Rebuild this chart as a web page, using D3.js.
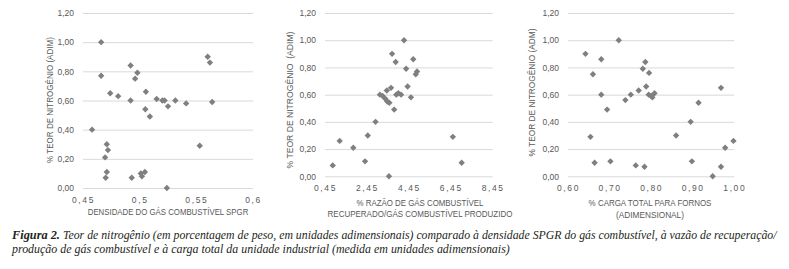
<!DOCTYPE html>
<html><head><meta charset="utf-8">
<script src="https://cdn.jsdelivr.net/npm/d3@7"></script>
<style>
body{margin:0;background:#fff;}
svg{display:block;}
</style></head>
<body>
<svg id="c" width="789" height="269"></svg>
<script>
// ---- data ----
const yTicks = [0, 0.2, 0.4, 0.6, 0.8, 1.0, 1.2];
const yTickLabels = ["0,00","0,20","0,40","0,60","0,80","1,00","1,20"];

const p1xTicks = [0.45, 0.5, 0.55, 0.6];
const p1xTickLabels = ["0,45","0,5","0,55","0,6"];
const p1x = [0.466,0.466,0.474,0.481,0.492,0.492,0.498,0.496,0.5055,0.505,0.509,0.515,0.520,0.522,0.525,0.5315,0.541,0.560,0.562,0.564,0.553,0.458,0.471,0.472,0.4695,0.471,0.470,0.493,0.501,0.5046,0.502,0.524];
const p1y = [1.00,0.77,0.65,0.63,0.84,0.60,0.79,0.75,0.66,0.54,0.49,0.61,0.60,0.60,0.56,0.60,0.58,0.90,0.86,0.59,0.29,0.40,0.30,0.26,0.21,0.11,0.07,0.07,0.10,0.11,0.08,0.00];

const p2xTicks = [0.45, 2.45, 4.45, 6.45, 8.45];
const p2xTickLabels = ["0,45","2,45","4,45","6,45","8,45"];
const p2x = [4.22,3.65,4.66,3.82,4.32,4.84,4.78,4.39,3.60,3.40,3.95,3.07,3.85,4.08,4.55,3.20,3.33,3.42,3.52,3.75,2.86,2.49,1.15,1.80,6.55,6.97,2.36,0.82,3.50];
const p2y = [1.00,0.90,0.86,0.84,0.79,0.77,0.75,0.66,0.65,0.63,0.61,0.60,0.60,0.60,0.58,0.59,0.57,0.55,0.54,0.49,0.40,0.30,0.26,0.21,0.29,0.10,0.11,0.08,0.00];

const p3xTicks = [0.6, 0.7, 0.8, 0.9, 1.0];
const p3xTickLabels = ["0,60","0,70","0,80","0,90","1,00"];
const p3x = [0.722,0.642,0.680,0.660,0.680,0.694,0.654,0.664,0.702,0.738,0.751,0.770,0.763,0.784,0.780,0.786,0.795,0.788,0.794,0.800,0.803,0.808,0.860,0.895,0.914,0.898,0.968,0.998,0.978,0.968,0.948];
const p3y = [1.00,0.90,0.86,0.75,0.60,0.49,0.29,0.10,0.11,0.56,0.60,0.63,0.08,0.07,0.79,0.84,0.76,0.66,0.60,0.59,0.58,0.61,0.30,0.40,0.54,0.11,0.65,0.26,0.21,0.07,0.00];

const captionBold = "Figura 2.";
const captionLine1 = "Teor de nitrogênio (em porcentagem de peso, em unidades adimensionais) comparado à densidade SPGR do gás combustível, à vazão de recuperação/";
const captionLine2 = "produção de gás combustível e à carga total da unidade industrial (medida em unidades adimensionais)";

// ---- drawing ----
const svg = d3.select("#c");
const TXT = "#595959", GRID = "#d9d9d9", MARK = "#7f7f7f";
const FONT = "'Liberation Sans', Arial, sans-serif";

// place a text so that its natural width is scaled horizontally to a target width
function fitText(parent, str, x, y, width, rot, anchor, styles) {
  const g = parent.append("g");
  const t = g.append("text").attr("x", 0).attr("y", 0).attr("text-anchor", anchor).text(str);
  Object.entries(styles).forEach(([k, v]) => t.style(k, v));
  const w = t.node().getComputedTextLength();
  const s = width / w;
  g.attr("transform", `translate(${x},${y})` + (rot ? ` rotate(${rot})` : "") + ` scale(${s},1)`);
  return t;
}

const panels = [
  {x0:83, x1:253, y0:13, y1:188, dom:[0.45,0.6], xt:p1xTicks, xl:p1xTickLabels, xs:p1x, ys:p1y,
   ytitle:"% TEOR DE NITROGÊNIO (ADIM)", ytx:53, yty:100, ytw:126,
   xtitle:["DENSIDADE DO GÁS COMBUSTÍVEL SPGR"], xtw:[161], xtx:168, xty:[215]},
  {x0:325, x1:492.7, y0:13, y1:176.3, dom:[0.45,8.45], xt:p2xTicks, xl:p2xTickLabels, xs:p2x, ys:p2y,
   ytitle:"% TEOR DE NITROGÊNIO  (ADIM)", ytx:293, yty:100, ytw:137,
   xtitle:["% RAZÃO DE GÁS COMBUSTÍVEL","RECUPERADO/GÁS COMBUSTÍVEL PRODUZIDO"], xtw:[127,185], xtx:420, xty:[206,217]},
  {x0:568, x1:734.3, y0:13, y1:176.3, dom:[0.6,1.0], xt:p3xTicks, xl:p3xTickLabels, xs:p3x, ys:p3y,
   ytitle:"% TEOR DE NITROGÊNIO (ADM)", ytx:535, yty:92.5, ytw:128,
   xtitle:["% CARGA TOTAL PARA FORNOS","(ADIMENSIONAL)"], xtw:[123,68], xtx:650, xty:[206,218]}
];

const diamond = d3.symbol().type(d3.symbolDiamond2 || d3.symbolDiamond).size(26);
const axStyle = {"font-family": FONT, "font-size": "8.5px", "fill": TXT, "white-space": "pre"};

panels.forEach(p => {
  const x = d3.scaleLinear().domain(p.dom).range([p.x0, p.x1]);
  const y = d3.scaleLinear().domain([0, 1.2]).range([p.y1, p.y0]);
  const g = svg.append("g");

  // y axis with gridlines
  const ya = d3.axisLeft(y).tickValues(yTicks).tickSize(-(p.x1 - p.x0)).tickPadding(9)
    .tickFormat((d,i) => yTickLabels[i]);
  const yg = g.append("g").attr("transform", `translate(${p.x0},0)`).call(ya);
  yg.select(".domain").remove();
  yg.selectAll("line").attr("stroke", GRID).attr("stroke-width", 1);
  yg.selectAll("text").attr("fill", TXT).style("font-family", FONT).style("font-size", "8.5px");

  // x axis labels
  const xa = d3.axisBottom(x).tickValues(p.xt).tickSize(0).tickPadding(9)
    .tickFormat((d,i) => p.xl[i]);
  const xg = g.append("g").attr("transform", `translate(0,${p.y1})`).call(xa);
  xg.select(".domain").remove();
  xg.selectAll("text").attr("fill", TXT).style("font-family", FONT).style("font-size", "8.5px")
    .style("letter-spacing", "1.6px");

  // points
  g.append("g").selectAll("path").data(p.xs.map((v,i) => [v, p.ys[i]])).join("path")
    .attr("d", diamond)
    .attr("transform", d => `translate(${x(d[0])},${y(d[1])})`)
    .attr("fill", MARK);

  // y title
  fitText(g, p.ytitle, p.ytx, p.yty, p.ytw, -90, "middle", axStyle);

  // x title
  p.xtitle.forEach((t, i) => {
    fitText(g, t, p.xtx, p.xty[i], p.xtw[i], 0, "middle", axStyle);
  });
});

// caption
const CF = "'Liberation Serif', 'Times New Roman', serif";
const capStyle = {"font-family": CF, "font-size": "13px", "font-style": "italic", "fill": "#231f20"};
fitText(svg, captionBold, 12, 239, 48, 0, "start", Object.assign({}, capStyle, {"font-weight": "bold"}));
fitText(svg, captionLine1, 63, 239, 714, 0, "start", capStyle);
fitText(svg, captionLine2, 12, 253, 498, 0, "start", capStyle);
</script>
</body></html>
